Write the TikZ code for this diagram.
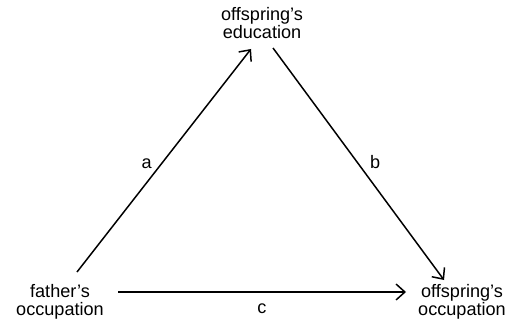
\documentclass[tikz,border=0pt]{standalone}
\usepackage{fontspec}
\setmainfont{Liberation Sans}
\usetikzlibrary{arrows.meta}

\begin{document}
\begin{tikzpicture}[x=0.02cm,y=-0.02cm,
		txt/.style={align=center,inner sep=0pt,font=\fontsize{10.3}{10.6}\selectfont},
		lbl/.style={inner sep=0pt,font=\fontsize{10.3}{12}\selectfont},
		arr/.style={-{Straight Barb[length=5pt,width=9pt]},line width=0.85pt}]
		\useasboundingbox (0,0) rectangle (516,324);
		\node[txt] (oe) at (262,23) {offspring's\\education};
		\node[txt] (fo) at (60,302) {father's\\occupation};
		\node[txt] (oo) at (462,302) {offspring's\\occupation};
		\coordinate (a0) at (77,272);
		\coordinate (a1) at (251,49);
		\coordinate (b0) at (273,48);
		\coordinate (b1) at (444,280);
		\coordinate (c0) at (118,292);
		\coordinate (c1) at (406,292);
		\draw[arr] (a0) -- node[lbl,pos=0.484,left=5pt] (la) {a} (a1);
		\draw[arr] (b0) -- node[lbl,pos=0.491,right=7pt] (lb) {b} (b1);
		\draw[arr] (c0) -- node[lbl,below=6pt] (lc) {c} (c1);
	\end{tikzpicture}
\end{document}
